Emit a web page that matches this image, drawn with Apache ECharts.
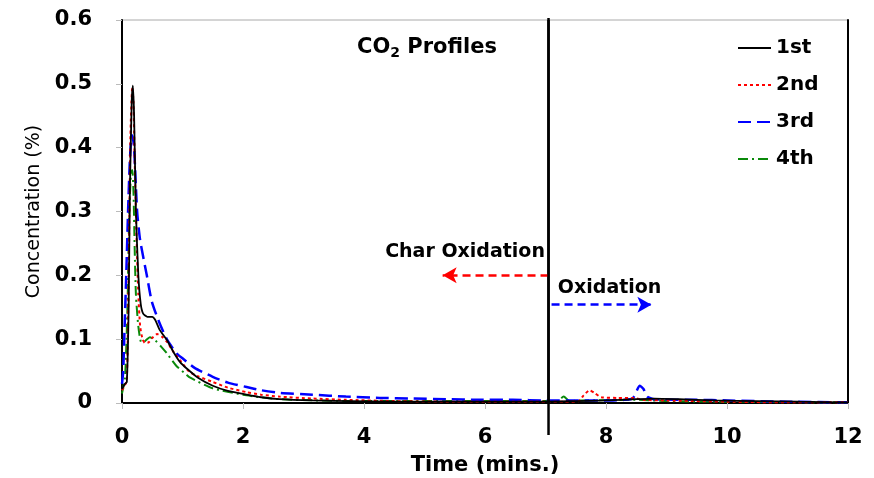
<!DOCTYPE html>
<html><head><meta charset="utf-8">
<script src="https://cdn.jsdelivr.net/npm/echarts@6/dist/echarts.min.js"></script>
<style>html,body{margin:0;padding:0;background:#fff}#c{width:874px;height:478px}</style>
</head><body><div id="c"></div>
<script>
const seriesNames = ['1st', '2nd', '3rd', '4th'];
const xTicks = [0, 2, 4, 6, 8, 10, 12];
const yTicks = [0, 0.1, 0.2, 0.3, 0.4, 0.5, 0.6];

const t1 = [0, 0.05, 0.08, 0.11, 0.13, 0.16, 0.18, 0.20, 0.23, 0.27, 0.31, 0.35, 0.42, 0.5, 0.55, 0.62, 0.74, 0.85, 0.96, 1.07, 1.25, 1.5, 1.75, 2.06, 2.3, 2.6, 3.15, 3.8, 4.5, 5.5, 6.5, 7.0, 7.5, 8.0, 8.5, 8.8, 9.2, 9.8, 10.5, 11.2, 12];
const c1 = [0.022, 0.03, 0.033, 0.15, 0.33, 0.47, 0.497, 0.45, 0.30, 0.20, 0.155, 0.14, 0.135, 0.135, 0.13, 0.115, 0.099, 0.08, 0.064, 0.054, 0.04, 0.027, 0.019, 0.013, 0.009, 0.006, 0.004, 0.003, 0.002, 0.002, 0.002, 0.002, 0.003, 0.004, 0.006, 0.007, 0.006, 0.004, 0.003, 0.002, 0.001];

const t2 = [0, 0.05, 0.08, 0.11, 0.14, 0.17, 0.19, 0.21, 0.24, 0.27, 0.30, 0.34, 0.38, 0.44, 0.5, 0.58, 0.66, 0.75, 0.85, 0.96, 1.1, 1.25, 1.5, 1.75, 2.06, 2.3, 2.6, 3.15, 3.7, 4.5, 5.5, 6.5, 7.0, 7.3, 7.55, 7.63, 7.73, 7.82, 7.92, 8.2, 8.45, 8.6, 9.0, 10, 11, 12];
const c2 = [0.02, 0.028, 0.035, 0.2, 0.42, 0.495, 0.47, 0.38, 0.26, 0.17, 0.12, 0.1, 0.094, 0.095, 0.102, 0.108, 0.104, 0.095, 0.08, 0.067, 0.05, 0.042, 0.033, 0.024, 0.017, 0.013, 0.01, 0.007, 0.005, 0.003, 0.002, 0.002, 0.002, 0.002, 0.003, 0.012, 0.02, 0.015, 0.009, 0.008, 0.008, 0.005, 0.004, 0.002, 0.001, 0.001];

const t3 = [0, 0.02, 0.04, 0.07, 0.1, 0.13, 0.16, 0.18, 0.2, 0.25, 0.3, 0.41, 0.49, 0.6, 0.74, 0.9, 1.0, 1.2, 1.5, 1.75, 2.06, 2.3, 2.6, 3.15, 3.7, 4.26, 4.8, 5.36, 5.9, 6.46, 7.0, 7.5, 8.0, 8.3, 8.44, 8.56, 8.62, 8.68, 8.8, 9.5, 10, 11, 12];
const c3 = [0.03, 0.05, 0.11, 0.2, 0.3, 0.38, 0.42, 0.415, 0.4, 0.3, 0.255, 0.2, 0.16, 0.13, 0.1, 0.078, 0.07, 0.055, 0.041, 0.032, 0.025, 0.02, 0.016, 0.013, 0.01, 0.008, 0.007, 0.006, 0.005, 0.005, 0.004, 0.004, 0.004, 0.005, 0.007, 0.027, 0.022, 0.01, 0.006, 0.005, 0.004, 0.002, 0.001];

const t4 = [0, 0.05, 0.09, 0.12, 0.15, 0.17, 0.19, 0.21, 0.23, 0.27, 0.32, 0.38, 0.46, 0.55, 0.65, 0.74, 0.9, 1.07, 1.12, 1.5, 2.06, 2.6, 3.2, 4.0, 5.0, 6.0, 7.0, 7.2, 7.3, 7.4, 7.6, 8.5, 9.0, 10, 12];
const c4 = [0.015, 0.04, 0.15, 0.3, 0.36, 0.365, 0.33, 0.24, 0.17, 0.12, 0.095, 0.097, 0.103, 0.098, 0.088, 0.078, 0.058, 0.044, 0.04, 0.023, 0.012, 0.006, 0.004, 0.003, 0.003, 0.003, 0.003, 0.003, 0.01, 0.003, 0.004, 0.005, 0.003, 0.002, 0.001];

const divideTime = 7.05;

function pairs(t, c) { return t.map((x, i) => [x, c[i]]); }

const FONT = "'DejaVu Sans', sans-serif";
const chart = echarts.init(document.getElementById('c'), null, {renderer: 'canvas'});

const styles = [
  {color: '#000000', width: 1.8, type: 'solid'},
  {color: '#ff0000', width: 2, type: [3, 3]},
  {color: '#0000ff', width: 2.5, type: [13, 6]},
  {color: '#0a8a0a', width: 2, type: [10, 4, 2, 4]}
];
const data = [pairs(t1, c1), pairs(t2, c2), pairs(t3, c3), pairs(t4, c4)];

const series = seriesNames.map((n, i) => ({
  name: n, type: 'line', data: data[i], symbol: 'none', showSymbol: false,
  smooth: 0.2, animation: false,
  lineStyle: {color: styles[i].color, width: styles[i].width, type: styles[i].type},
  itemStyle: {color: styles[i].color},
  z: 4 - i
}));

series[0].markLine = {
  silent: true, animation: false, symbol: ['none', 'none'], label: {show: false},
  data: [
    [{coord: [divideTime, 0.6], lineStyle: {color: '#000', width: 2.5, type: 'solid'}}, {coord: [divideTime, 0]}],
    [{coord: [divideTime, 0.2], symbol: 'none', lineStyle: {color: '#ff0000', width: 2.5, type: [8, 5]}}, {coord: [5.3, 0.2], symbol: 'arrow', symbolSize: [12, 14]}],
    [{coord: [divideTime + 0.05, 0.154], symbol: 'none', lineStyle: {color: '#0000ff', width: 2.5, type: [8, 5]}}, {coord: [8.75, 0.154], symbol: 'arrow', symbolSize: [12, 14]}]
  ]
};

chart.setOption({
  backgroundColor: '#fff',
  animation: false,
  grid: {left: 122, right: 26, top: 20, bottom: 75, show: true, borderColor: '#aaa', borderWidth: 1,
    containLabel: false, outerBoundsMode: 'none'},
  legend: {
    orient: 'vertical', left: 737, top: 38, padding: 0, itemGap: 17,
    itemWidth: 33, itemHeight: 14, data: seriesNames,
    itemStyle: {opacity: 0},
    textStyle: {fontFamily: FONT, fontSize: 20, fontWeight: 'bold', color: '#000'}
  },
  title: {
    text: 'CO{sub|2} Profiles', left: 352, top: 31,
    textStyle: {fontFamily: FONT, fontSize: 21, fontWeight: 'bold', color: '#000',
      rich: {sub: {fontFamily: FONT, fontSize: 14, fontWeight: 'bold', color: '#000', verticalAlign: 'bottom', padding: [10, 0, 0, 0]}}}
  },
  xAxis: {
    type: 'value', min: 0, max: 12, interval: 2,
    name: 'Time (mins.)', nameLocation: 'middle', nameGap: 52,
    nameTextStyle: {fontFamily: FONT, fontSize: 21, fontWeight: 'bold', color: '#000'},
    axisLine: {lineStyle: {color: '#000', width: 2}},
    axisTick: {show: true, length: 6, lineStyle: {color: '#bbb'}},
    axisLabel: {fontFamily: FONT, fontSize: 21, fontWeight: 'bold', color: '#000', margin: 24,
      customValues: xTicks},
    splitLine: {show: false}
  },
  yAxis: [{
    type: 'value', min: 0, max: 0.6, interval: 0.1,
    name: 'Concentration (%)', nameLocation: 'middle', nameGap: 78, nameRotate: 90,
    nameTextStyle: {fontFamily: FONT, fontSize: 19, color: '#000'},
    axisLine: {show: true, lineStyle: {color: '#000', width: 2}},
    axisTick: {show: true, length: 6, lineStyle: {color: '#bbb'}},
    axisLabel: {fontFamily: FONT, fontSize: 21, fontWeight: 'bold', color: '#000', margin: 30,
      formatter: v => String(Math.round(v * 10) / 10)},
    splitLine: {show: false}
  }, {
    type: 'value', min: 0, max: 0.6, position: 'right',
    axisLine: {show: true, lineStyle: {color: '#000', width: 2}},
    axisTick: {show: false}, axisLabel: {show: false}, splitLine: {show: false}
  }],
  series: series
});

// extension of the divider line below the x axis, and annotation texts
const px = chart.convertToPixel({xAxisIndex: 0}, divideTime);
const yBottom = chart.convertToPixel({yAxisIndex: 0}, 0);
const yTop = chart.convertToPixel({yAxisIndex: 0}, 0.6);
const pRed = chart.convertToPixel({seriesIndex: 0}, [5.67, 0.2]);
const pBlue = chart.convertToPixel({seriesIndex: 0}, [8.06, 0.154]);
chart.setOption({
  graphic: [
    {type: 'line', shape: {x1: px, y1: yTop - 2, x2: px, y2: yBottom + 32}, style: {stroke: '#000', lineWidth: 2.5}, z: 10},
    {type: 'text', x: pRed[0], y: pRed[1] - 23, style: {text: 'Char Oxidation', fontFamily: FONT, fontSize: 19, fontWeight: 'bold', fill: '#000', align: 'center', verticalAlign: 'middle'}, z: 10},
    {type: 'text', x: pBlue[0], y: pBlue[1] - 17, style: {text: 'Oxidation', fontFamily: FONT, fontSize: 19, fontWeight: 'bold', fill: '#000', align: 'center', verticalAlign: 'middle'}, z: 10}
  ]
});
</script></body></html>
